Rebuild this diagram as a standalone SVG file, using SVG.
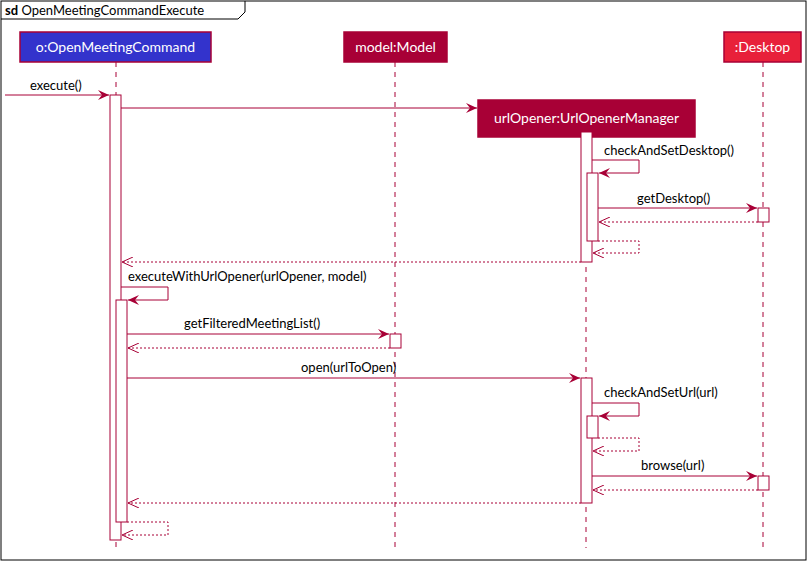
<svg xmlns="http://www.w3.org/2000/svg" width="811" height="564" viewBox="0 0 811 564">
<style>
text{font-family:"Lato","Liberation Sans",sans-serif;font-size:13px;fill:#000}
.ll{stroke:#A80036;stroke-dasharray:5,5;fill:none}
.act{fill:#fff;stroke:#A80036}
.m{stroke:#A80036;fill:none}
.r{stroke:#A80036;fill:none;stroke-dasharray:2,2}
.pt{fill:#fff;font-size:14px}
</style>
<defs>
<marker id="a" markerWidth="12" markerHeight="10" refX="11" refY="5" orient="auto" markerUnits="userSpaceOnUse">
<path d="M0,0 L11,5 L0,10 L4,5 Z" fill="#A80036"/>
</marker>
<marker id="o" markerWidth="12" markerHeight="10" refX="11" refY="5" orient="auto" markerUnits="userSpaceOnUse">
<path d="M0,0 L11,5 L0,10" fill="none" stroke="#A80036"/>
</marker>
</defs>
<rect x="1" y="1" width="805" height="559" fill="#fff" stroke="#000"/>
<path d="M1,19 H238 L245,12 V1" fill="none" stroke="#000"/>
<text x="5" y="15" font-size="14"><tspan font-weight="bold">sd</tspan> OpenMeetingCommandExecute</text>

<g id="lifelines">
<line class="ll" x1="116" y1="62" x2="116" y2="548"/>
<line class="ll" x1="395" y1="62" x2="395" y2="548"/>
<line class="ll" x1="763" y1="62" x2="763" y2="548"/>
<line class="ll" x1="586" y1="137" x2="586" y2="548"/>
</g>
<g id="p-open"><rect x="20" y="32" width="191" height="30" fill="#3333CC" stroke="#A80036" stroke-width="1.5"/><text class="pt" x="115.5" y="52" text-anchor="middle">o:OpenMeetingCommand</text></g>
<g id="p-model"><rect x="344" y="32" width="103" height="30" fill="#A80036" stroke="#A80036" stroke-width="1.5"/><text class="pt" x="395.5" y="52" text-anchor="middle">model:Model</text></g>
<g id="p-desktop"><rect x="724" y="32" width="77" height="30" fill="#E8203A" stroke="#A80036" stroke-width="1.5"/><text class="pt" x="762.5" y="52" text-anchor="middle">:Desktop</text></g>
<g id="p-url"><rect x="478" y="100" width="217" height="37" fill="#A80036" stroke="#A80036" stroke-width="1.5"/><text class="pt" x="586.5" y="123" text-anchor="middle">urlOpener:UrlOpenerManager</text></g>

<g id="activations">
<rect class="act" x="110" y="95" width="11" height="445"/>
<rect class="act" x="116" y="300" width="11" height="222"/>
<rect class="act" x="581" y="132" width="11" height="130"/>
<rect class="act" x="587" y="173" width="11" height="68"/>
<rect class="act" x="758" y="208" width="11" height="14"/>
<rect class="act" x="390" y="334" width="11" height="14"/>
<rect class="act" x="581" y="378" width="11" height="125"/>
<rect class="act" x="587" y="416" width="11" height="22"/>
<rect class="act" x="758" y="476" width="11" height="14"/>
</g>

<g id="connectors">
<line class="m" x1="5" y1="95" x2="109" y2="95" marker-end="url(#a)"/>
<text x="30" y="90">execute()</text>
<line class="m" x1="121" y1="108" x2="477" y2="108" marker-end="url(#a)"/>
<path class="m" d="M592,160 H639 V173 H599" marker-end="url(#a)"/>
<text x="604" y="155">checkAndSetDesktop()</text>
<line class="m" x1="598" y1="208" x2="757" y2="208" marker-end="url(#a)"/>
<text x="637" y="203">getDesktop()</text>
<line class="r" x1="758" y1="222" x2="599" y2="222" marker-end="url(#o)"/>
<path class="r" d="M598,241 H639 V253 H593" marker-end="url(#o)"/>
<line class="r" x1="581" y1="262" x2="122" y2="262" marker-end="url(#o)"/>
<path class="m" d="M121,287 H168 V300 H128" marker-end="url(#a)"/>
<text x="128" y="281">executeWithUrlOpener(urlOpener, model)</text>
<line class="m" x1="127" y1="334" x2="389" y2="334" marker-end="url(#a)"/>
<text x="184" y="328">getFilteredMeetingList()</text>
<line class="r" x1="390" y1="348" x2="128" y2="348" marker-end="url(#o)"/>
<line class="m" x1="127" y1="378" x2="580" y2="378" marker-end="url(#a)"/>
<text x="301" y="372">open(urlToOpen)</text>
<path class="m" d="M592,403 H639 V416 H599" marker-end="url(#a)"/>
<text x="604" y="397">checkAndSetUrl(url)</text>
<path class="r" d="M598,438 H639 V451 H593" marker-end="url(#o)"/>
<line class="m" x1="592" y1="476" x2="757" y2="476" marker-end="url(#a)"/>
<text x="641" y="470">browse(url)</text>
<line class="r" x1="758" y1="490" x2="593" y2="490" marker-end="url(#o)"/>
<line class="r" x1="581" y1="503" x2="128" y2="503" marker-end="url(#o)"/>
<path class="r" d="M127,522 H168 V535 H122" marker-end="url(#o)"/>
</g>
</svg>
